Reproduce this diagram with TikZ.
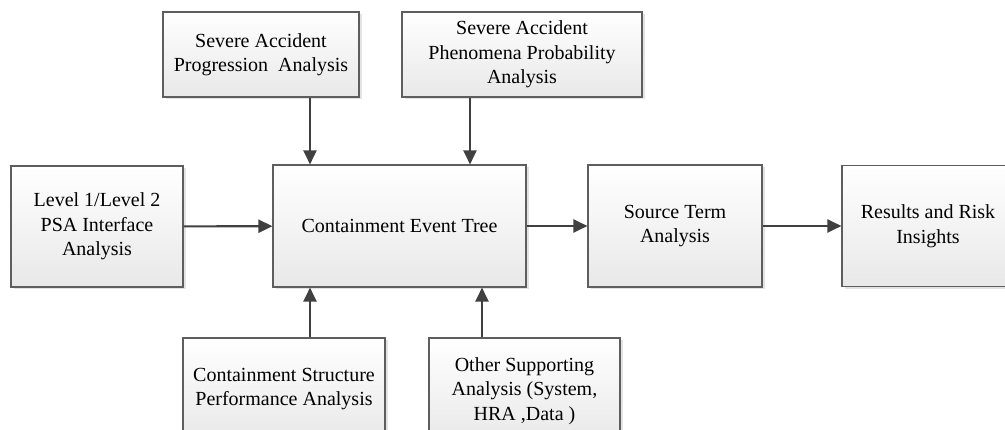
\documentclass[tikz,border=0pt]{standalone}
\usepackage{fontspec}
\setmainfont{Liberation Serif}
\usetikzlibrary{arrows.meta,shadows}
\definecolor{edgegray}{HTML}{5E5E5E}
\definecolor{arrowgray}{HTML}{404040}
\tikzset{
  box/.style={draw=edgegray, line width=1.1pt, top color=white, bottom color=black!9,
    drop shadow={shadow xshift=2.5pt, shadow yshift=-2.5pt, fill=black!22},
    align=center, inner sep=2pt, font=\fontsize{20}{24.5}\selectfont},
  arr/.style={draw=arrowgray, line width=2.1pt, -{Triangle[length=14pt,width=13pt]}}
}
\begin{document}
\begin{tikzpicture}[x=1pt,y=-1pt]
\useasboundingbox (0,0) rectangle (1005,430);
\clip (0,0) rectangle (1005,430);
% main chain
\node[box, minimum width=172pt, minimum height=121pt] (l1) at (97,226.5) {Level 1/Level 2\\PSA Interface\\Analysis};
\node[box, minimum width=253pt, minimum height=122pt] (cet) at (399.5,226) {Containment Event Tree};
\node[box, minimum width=174pt, minimum height=122pt] (src) at (675,226) {Source Term\\Analysis};
\node[box, minimum width=184pt, minimum height=121pt] (res) at (934,226) {\hspace*{-12pt}Results and Risk\\\hspace*{-12pt}Insights};
% inputs from above
\node[box, minimum width=196pt, minimum height=85pt] (sap) at (261,54.5) {Severe Accident\\Progression\ \ Analysis};
\node[box, minimum width=240pt, minimum height=85pt] (spp) at (522,54.5) {Severe Accident\\Phenomena Probability\\Analysis};
% inputs from below
\node[box, minimum width=202pt, minimum height=102pt] (csp) at (284,389) {Containment Structure\\Performance Analysis};
\node[box, minimum width=191pt, minimum height=106pt] (osa) at (524.5,391) {Other Supporting\\Analysis (System,\\HRA ,Data )};
% attachment columns on the event tree
\coordinate (ca) at (310,0);
\coordinate (cb) at (470,0);
\coordinate (cc) at (482,0);
% connectors
\draw[arr] (l1) -- (cet);
\draw[arr] (cet) -- (src);
\draw[arr] (src) -- (res);
\draw[arr] (sap.south -| ca) -- (cet.north -| ca);
\draw[arr] (spp.south -| cb) -- (cet.north -| cb);
\draw[arr] (csp.north -| ca) -- (cet.south -| ca);
\draw[arr] (osa.north -| cc) -- (cet.south -| cc);
\end{tikzpicture}
\end{document}
